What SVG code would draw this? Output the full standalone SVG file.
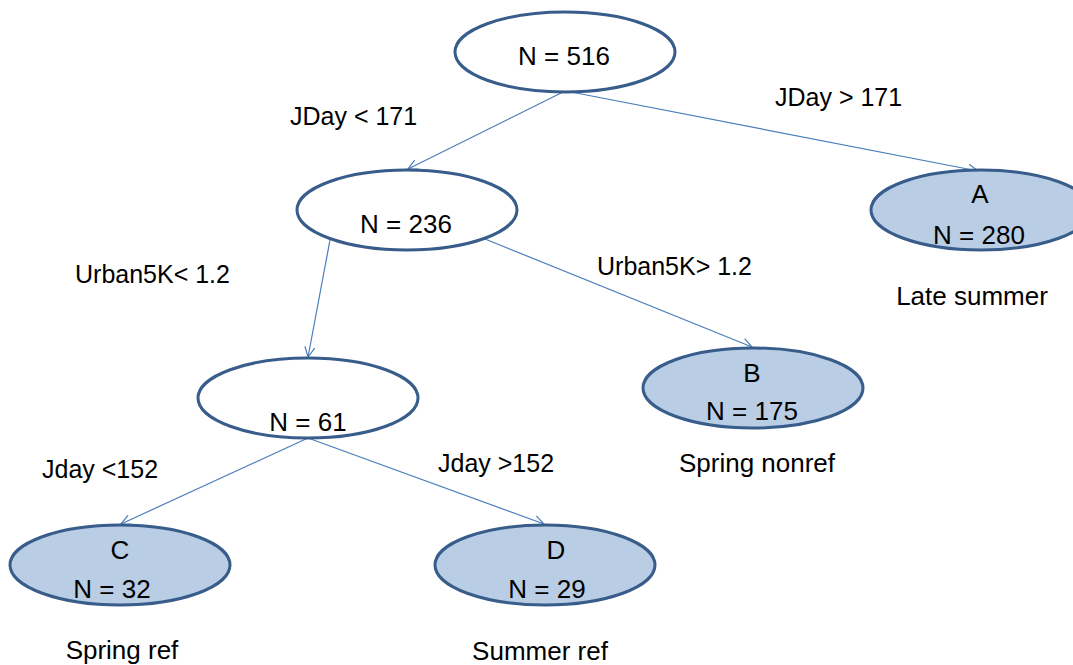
<svg xmlns="http://www.w3.org/2000/svg" width="1073" height="665" viewBox="0 0 1073 665">
<defs>
<style>
.node{stroke:#385D8A;stroke-width:3}
.inner{fill:#FFFFFF}
.leaf{fill:#B9CDE5}
.t{font-family:"Liberation Sans",Arial,sans-serif;font-size:26px;fill:#000;text-anchor:middle}
.lbl{font-family:"Liberation Sans",Arial,sans-serif;font-size:25px;fill:#000;text-anchor:start}
.edge{stroke:#4A7EBB;stroke-width:1.2;fill:none;marker-end:url(#arr)}
</style>
<marker id="arr" markerUnits="userSpaceOnUse" markerWidth="14" markerHeight="14" refX="11" refY="6" orient="auto">
<path d="M1,1 L11,6 L1,11" fill="none" stroke="#4A7EBB" stroke-width="1.2"/>
</marker>
</defs>
<rect width="1073" height="665" fill="#FFFFFF"/>
<g id="connectors">
<line class="edge" x1="563" y1="92" x2="408" y2="169"/>
<line class="edge" x1="571" y1="92" x2="978" y2="171"/>
<line class="edge" x1="330" y1="240" x2="308" y2="357"/>
<line class="edge" x1="485" y1="239" x2="752" y2="347"/>
<line class="edge" x1="308" y1="438" x2="121" y2="524"/>
<line class="edge" x1="308" y1="438" x2="544" y2="524"/>
</g>
<g id="edge-labels">
<text class="lbl" x="290" y="125">JDay &lt; 171</text>
<text class="lbl" x="775" y="106">JDay &gt; 171</text>
<text class="lbl" x="75" y="283">Urban5K&lt; 1.2</text>
<text class="lbl" x="597" y="275">Urban5K&gt; 1.2</text>
<text class="lbl" x="42" y="478">Jday &lt;152</text>
<text class="lbl" x="438" y="472">Jday &gt;152</text>
</g>
<g id="n516">
<ellipse class="node inner" cx="565" cy="52" rx="110" ry="40"/>
<text class="t" x="564" y="65">N = 516</text>
</g>
<g id="n236">
<ellipse class="node inner" cx="407" cy="210" rx="110" ry="40"/>
<text class="t" x="406" y="233">N = 236</text>
</g>
<g id="n61">
<ellipse class="node inner" cx="308" cy="398" rx="110" ry="40"/>
<text class="t" x="308" y="431">N = 61</text>
</g>
<g id="nodeA">
<ellipse class="node leaf" cx="981" cy="210" rx="110" ry="40"/>
<text class="t" x="980" y="203">A</text>
<text class="t" x="979" y="244">N = 280</text>
<text class="t" x="972" y="305">Late summer</text>
</g>
<g id="nodeB">
<ellipse class="node leaf" cx="753" cy="388" rx="110" ry="40"/>
<text class="t" x="752" y="382">B</text>
<text class="t" x="752" y="420">N = 175</text>
<text class="t" x="757" y="472">Spring nonref</text>
</g>
<g id="nodeC">
<ellipse class="node leaf" cx="120" cy="565" rx="110" ry="40"/>
<text class="t" x="120" y="559">C</text>
<text class="t" x="112" y="598">N = 32</text>
<text class="t" x="122" y="659">Spring ref</text>
</g>
<g id="nodeD">
<ellipse class="node leaf" cx="545" cy="565" rx="110" ry="40"/>
<text class="t" x="556" y="559">D</text>
<text class="t" x="547" y="598">N = 29</text>
<text class="t" x="540" y="660">Summer ref</text>
</g>
</svg>
